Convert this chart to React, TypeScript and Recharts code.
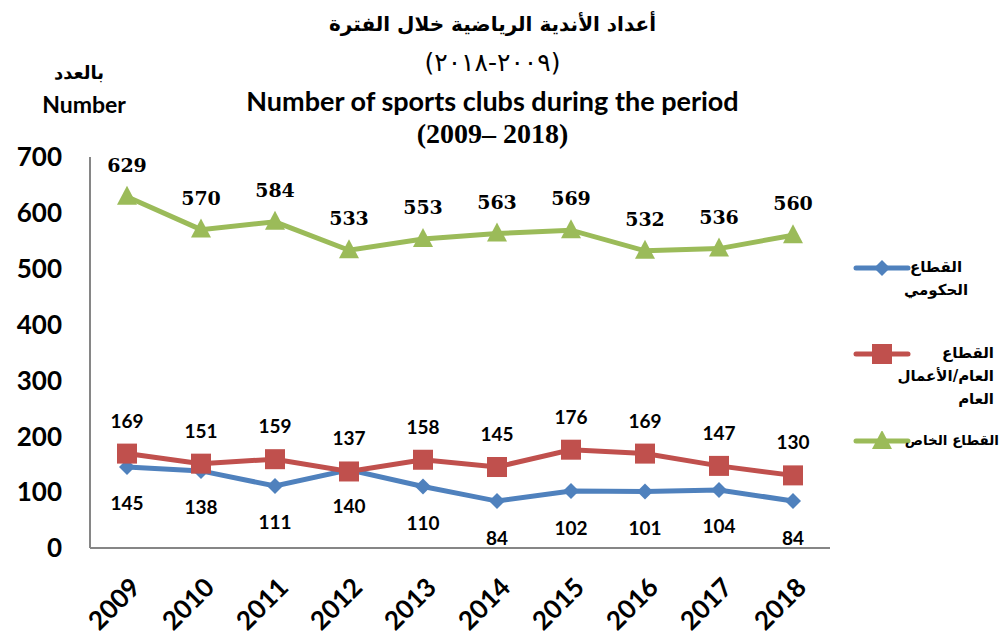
import { LineChart, Line, XAxis, YAxis, LabelList, Legend } from "recharts";

const YEARS = ["2009", "2010", "2011", "2012", "2013", "2014", "2015", "2016", "2017", "2018"];
const GOVERNMENT = [145, 138, 111, 140, 110, 84, 102, 101, 104, 84];
const PUBLIC_SECTOR = [169, 151, 159, 137, 158, 145, 176, 169, 147, 130];
const PRIVATE_SECTOR = [629, 570, 584, 533, 553, 563, 569, 532, 536, 560];
const Y_TICKS = [0, 100, 200, 300, 400, 500, 600, 700];

const data = YEARS.map((year, i) => ({
  year,
  gov: GOVERNMENT[i],
  pub: PUBLIC_SECTOR[i],
  priv: PRIVATE_SECTOR[i],
}));

const SANS = "Lato, 'Open Sans', sans-serif";
const ARABIC = "'DejaVu Sans', sans-serif";

// legend rows: line y, text box left/width (relative to legend left = 853)
const legendRows = [
  { key: "gov", lines: ["القطاع", "الحكومي"], top: 258, textLeft: 46, textWidth: 74, fontSize: 15, align: "center" as const },
  { key: "pub", lines: ["القطاع", "العام/الأعمال", "العام"], top: 344, textLeft: 40, textWidth: 101, fontSize: 15, align: "right" as const },
  { key: "priv", lines: ["القطاع الخاص"], top: 431, textLeft: 40, textWidth: 106, fontSize: 13.5, align: "right" as const },
];

function YearTick(props: any) {
  const { x, y, payload } = props;
  return (
    <text
      transform={`translate(${x + 15},${y + 33}) rotate(-45)`}
      textAnchor="end"
      fontFamily={SANS}
      fontWeight="bold"
      fontSize={26}
      fill="#000"
    >
      {payload.value}
    </text>
  );
}

function Marker({ cx, cy, shape, color }: any) {
  if (cx == null || cy == null) return null;
  if (shape === "diamond") {
    return <path d={`M${cx},${cy - 8} L${cx + 8},${cy} L${cx},${cy + 8} L${cx - 8},${cy} Z`} fill={color} />;
  }
  if (shape === "square") {
    return <rect x={cx - 10} y={cy - 10} width={20} height={20} fill={color} />;
  }
  return <path d={`M${cx},${cy - 11} L${cx + 10},${cy + 8} L${cx - 10},${cy + 8} Z`} fill={color} />;
}

function LegendBox(props: any) {
  const payload = props.payload || [];
  return (
    <div style={{ position: "relative", width: 150, height: 230 }}>
      {legendRows.map((row) => {
        const item = payload.find((p: any) => p.dataKey === row.key);
        const color = item ? item.color : "#000";
        const shape = row.key === "gov" ? "diamond" : row.key === "pub" ? "square" : "triangle";
        return (
          <div key={row.key} style={{ position: "absolute", top: row.top - 258, left: 0, width: 150 }}>
            <svg width={60} height={20} style={{ position: "absolute", left: 0, top: 0 }}>
              <line x1={3} y1={10} x2={55} y2={10} stroke={color} strokeWidth={5} strokeLinecap="round" />
              <Marker cx={29} cy={10} shape={shape} color={color} />
            </svg>
            <div
              dir="rtl"
              style={{
                position: "absolute",
                left: row.textLeft,
                width: row.textWidth,
                top: -2,
                textAlign: row.align,
                fontFamily: ARABIC,
                fontWeight: "bold",
                fontSize: row.fontSize,
                lineHeight: "23px",
                whiteSpace: "nowrap",
                color: "#000",
              }}
            >
              {row.lines.map((l) => (
                <div key={l}>{l}</div>
              ))}
            </div>
          </div>
        );
      })}
    </div>
  );
}

export default function App() {
  return (
    <div style={{ position: "absolute", left: 0, top: 0, width: 1002, height: 638, background: "#fff" }}>
      <div style={{ position: "absolute", top: 12, left: 0, width: 985, textAlign: "center", fontFamily: ARABIC, fontWeight: "bold", fontSize: 20 }}>
        أعداد الأندية الرياضية خلال الفترة
      </div>
      <div
        style={{
          position: "absolute",
          top: 48,
          left: 0,
          width: 985,
          textAlign: "center",
          fontFamily: ARABIC,
          fontSize: 25,
          direction: "ltr",
          unicodeBidi: "bidi-override",
        }}
      >
        (٢٠١٨-٢٠٠٩)
      </div>
      <div style={{ position: "absolute", top: 84, left: 0, width: 985, textAlign: "center", fontFamily: SANS, fontWeight: "bold", fontSize: 27 }}>
        Number of sports clubs during the period
      </div>
      <div style={{ position: "absolute", top: 118, left: 0, width: 985, textAlign: "center", fontFamily: "'Liberation Serif', serif", fontWeight: "bold", fontSize: 28 }}>
        (2009– 2018)
      </div>
      <div style={{ position: "absolute", top: 62, left: 34, width: 90, textAlign: "center", fontFamily: ARABIC, fontWeight: "bold", fontSize: 18 }}>
        بالعدد
      </div>
      <div style={{ position: "absolute", top: 90, left: 38, width: 92, textAlign: "center", fontFamily: SANS, fontWeight: "bold", fontSize: 23 }}>
        Number
      </div>
      <LineChart width={1002} height={638} data={data} margin={{ top: 157, right: 172, left: 0, bottom: 0 }}>
        <XAxis
          dataKey="year"
          height={90}
          padding={{ left: 37, right: 37 }}
          tick={<YearTick />}
          tickLine={false}
          axisLine={{ stroke: "#868686", strokeWidth: 2 }}
          interval={0}
        />
        <YAxis
          width={90}
          domain={[0, 700]}
          ticks={Y_TICKS}
          tickLine={false}
          tickSize={0}
          tickMargin={28}
          axisLine={{ stroke: "#868686", strokeWidth: 2 }}
          tick={{ fontFamily: SANS, fontWeight: "bold", fontSize: 26, fill: "#000" }}
        />
        <Legend
          layout="horizontal"
          verticalAlign="middle"
          align="center"
          wrapperStyle={{ position: "absolute", left: 853, top: 258, width: 150 }}
          content={<LegendBox />}
        />
        <Line
          dataKey="gov"
          name="القطاع الحكومي"
          stroke="#4F81BD"
          strokeWidth={5}
          isAnimationActive={false}
          dot={<Marker shape="diamond" color="#4F81BD" />}
        >
          <LabelList dataKey="gov" position="bottom" offset={30} fill="#000" fontFamily={SANS} fontWeight="bold" fontSize={19} />
        </Line>
        <Line
          dataKey="pub"
          name="القطاع العام/الأعمال العام"
          stroke="#C0504D"
          strokeWidth={5}
          isAnimationActive={false}
          dot={<Marker shape="square" color="#C0504D" />}
        >
          <LabelList dataKey="pub" position="top" offset={26} fill="#000" fontFamily={SANS} fontWeight="bold" fontSize={19} />
        </Line>
        <Line
          dataKey="priv"
          name="القطاع الخاص"
          stroke="#9BBB59"
          strokeWidth={5}
          isAnimationActive={false}
          dot={<Marker shape="triangle" color="#9BBB59" />}
        >
          <LabelList dataKey="priv" position="top" offset={25} fill="#000" fontFamily="'DejaVu Serif', serif" fontWeight="bold" fontSize={19} />
        </Line>
      </LineChart>
    </div>
  );
}
